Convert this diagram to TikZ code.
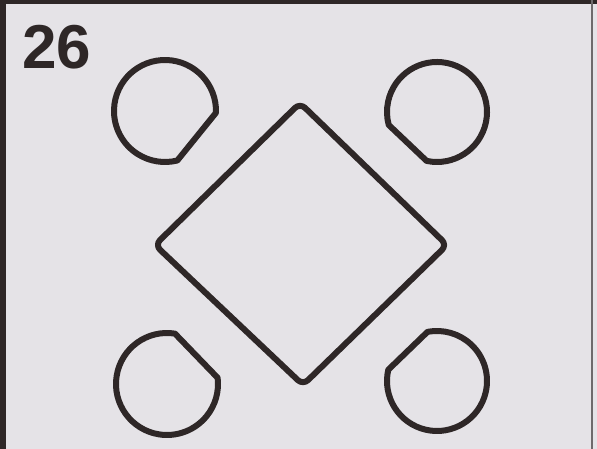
\documentclass[tikz,border=0pt]{standalone}
\usepackage{fontspec}
\setmainfont{Liberation Sans}
\definecolor{paper}{HTML}{E5E3E7}
\definecolor{ink}{HTML}{2E2727}
\definecolor{edge}{HTML}{6E6A6C}
\begin{document}
\begin{tikzpicture}[x=1pt,y=1pt,
  shapeline/.style={draw=ink,line width=6pt,line join=round},
  roundshape/.style={shapeline}]
\useasboundingbox (0,0) rectangle (597,449);
\fill[paper] (0,0) rectangle (597,449);
% frame
\draw[ink,line width=6pt] (3,0) -- (3,449);
\draw[ink,line width=4pt] (0,447) -- (597,447);
\draw[edge,line width=2.5pt] (592,0) -- (592,449);
% label
\node[text=ink,font=\fontsize{62}{66}\selectfont\bfseries] (lbl) at (57,402) {26};
% circles
\coordinate (c1) at (165,338);
\coordinate (c2) at (437,337);
\coordinate (c3) at (167,65);
\coordinate (c4) at (437,68);
\draw[roundshape] ([shift={(-2:51)}]c1) arc[start angle=-2,end angle=284,radius=51] -- cycle;
\draw[roundshape] ([shift={(-102:50)}]c2) arc[start angle=-102,end angle=195,radius=50] -- cycle;
\draw[roundshape] ([shift={(81:51)}]c3) arc[start angle=81,end angle=367,radius=51] -- cycle;
\draw[roundshape] ([shift={(167:50)}]c4) arc[start angle=167,end angle=461,radius=50] -- cycle;
% diamond
\coordinate (dt) at (300,346);
\coordinate (dl) at (155,204);
\coordinate (db) at (303,64);
\coordinate (dr) at (447,204);
\draw[shapeline,rounded corners=7pt] (dt) -- (dl) -- (db) -- (dr) -- cycle;
\end{tikzpicture}
\end{document}
